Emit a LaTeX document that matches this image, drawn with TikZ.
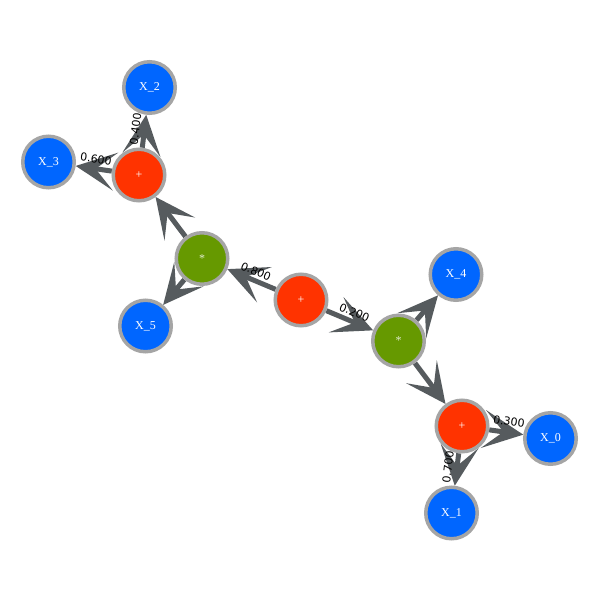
\documentclass[tikz,border=0pt]{standalone}
\usepackage{fontspec}
\setmainfont{Liberation Serif}
\newfontfamily\labelfont{DejaVu Sans}
\usetikzlibrary{arrows.meta,backgrounds}
\definecolor{nblue}{RGB}{0,102,255}
\definecolor{nred}{RGB}{255,51,0}
\definecolor{ngreen}{RGB}{102,153,0}
\definecolor{nborder}{RGB}{165,165,165}
\definecolor{edgegray}{RGB}{86,91,94}
\tikzset{
  vnode/.style={circle,draw=nborder,line width=3.5pt,minimum size=51.5pt,inner sep=0pt,text=white,font=\fontsize{12}{12}\selectfont},
  varnode/.style={vnode,fill=nblue},
  plusnode/.style={vnode,fill=nred},
  mulnode/.style={vnode,fill=ngreen,text=white!80!ngreen},
  conn/.style={draw=edgegray,line width=5pt,-{Stealth[length=40pt,width=38pt,inset=20pt]}},
  wlabel/.style={font=\labelfont\fontsize{11}{11}\selectfont,text=black,inner sep=0pt}
}
\begin{document}
\begin{tikzpicture}[x=1pt,y=-1pt]
\useasboundingbox (0,0) rectangle (600,600);
\node[plusnode] (root) at (301,300) {+};
\node[mulnode] (sl) at (202,258.5) {*};
\node[plusnode] (ptl) at (139,175) {+};
\node[varnode] (x2) at (149.5,87.5) {X\_2};
\node[varnode] (x3) at (48.5,162) {X\_3};
\node[varnode] (x5) at (145.5,326) {X\_5};
\node[mulnode] (sr) at (398.5,341) {*};
\node[varnode] (x4) at (456,274.5) {X\_4};
\node[plusnode] (pbr) at (462,426) {+};
\node[varnode] (x0) at (550.5,438.5) {X\_0};
\node[varnode] (x1) at (451.5,513) {X\_1};
\begin{scope}[on background layer]
\fill[white] (0,0) rectangle (600,600);
\draw[conn] (root) -- (sl);
\draw[conn] (root) -- (sr);
\draw[conn] (sl) -- (ptl);
\draw[conn] (sl) -- (x5);
\draw[conn] (ptl) -- (x2);
\draw[conn] (ptl) -- (x3);
\draw[conn] (sr) -- (x4);
\draw[conn] (sr) -- (pbr);
\draw[conn] (pbr) -- (x0);
\draw[conn] (pbr) -- (x1);
\end{scope}
\node[wlabel,rotate=-23] (l800) at (256,271.5) {0.800};
\node[wlabel,rotate=-23] (l200) at (354.5,312.5) {0.200};
\node[wlabel,rotate=-7.5] (l600) at (96,159) {0.600};
\node[wlabel,rotate=83] (l400) at (135.5,129) {0.400};
\node[wlabel,rotate=-8.5] (l300) at (509,421.5) {0.300};
\node[wlabel,rotate=83] (l700) at (448,467) {0.700};
\end{tikzpicture}
\end{document}
